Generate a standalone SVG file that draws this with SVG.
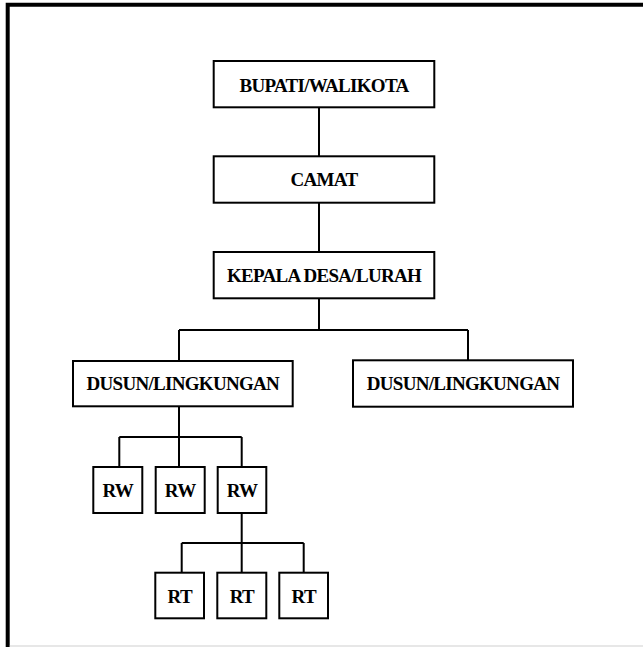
<svg xmlns="http://www.w3.org/2000/svg" width="643" height="647" viewBox="0 0 643 647">
<style>
.box{fill:#fff;stroke:#000;stroke-width:2}
text{font-family:'Liberation Serif','Times New Roman','DejaVu Serif',serif;font-weight:bold;font-size:19px;letter-spacing:-0.7px;fill:#000;text-anchor:middle}
.ln{fill:none;stroke:#000;stroke-width:2}
</style>
<rect x="0" y="0" width="643" height="647" fill="#fff"/>
<g id="frame">
<path d="M7.7,647 V4.7 H643" fill="none" stroke="#000" stroke-width="4"/>
<line x1="9.7" y1="646" x2="643" y2="646" stroke="#cfcfcf" stroke-width="1.2"/>
</g>
<g id="connectors">
<path class="ln" d="M319,108 V156"/>
<path class="ln" d="M319,203 V252"/>
<path class="ln" d="M319,299 V330 M179,330 H468 M179,330 V360 M468,330 V360"/>
<path class="ln" d="M179,407 V437 M119.3,437 H241.7 M119.3,437 V466 M179,437 V466 M241.7,437 V466"/>
<path class="ln" d="M241.7,514 V543 M181.7,543 H303.7 M181.7,543 V572 M241.7,543 V572 M303.7,543 V572"/>
</g>
<g id="bupati">
<rect class="box" x="213.7" y="61" width="220.6" height="46.3"/>
<text x="324" y="91.5" font-family="Liberation Serif, serif">BUPATI/WALIKOTA</text>
</g>
<g id="camat">
<rect class="box" x="213.7" y="156.3" width="220.6" height="46.4"/>
<text x="324" y="186" font-family="Liberation Serif, serif">CAMAT</text>
</g>
<g id="kepala">
<rect class="box" x="213.7" y="252" width="220.6" height="46.3"/>
<text x="324" y="281.7" font-family="Liberation Serif, serif">KEPALA DESA/LURAH</text>
</g>
<g id="dusun1">
<rect class="box" x="73" y="361" width="219.7" height="45.3"/>
<text x="182.8" y="390" font-family="Liberation Serif, serif">DUSUN/LINGKUNGAN</text>
</g>
<g id="dusun2">
<rect class="box" x="353" y="360.3" width="220" height="46.4"/>
<text x="463" y="390" font-family="Liberation Serif, serif">DUSUN/LINGKUNGAN</text>
</g>
<g id="rw1">
<rect class="box" x="93.3" y="467" width="49" height="46"/>
<text x="117.8" y="496.7" font-family="Liberation Serif, serif">RW</text>
</g>
<g id="rw2">
<rect class="box" x="155.7" y="467" width="49" height="46"/>
<text x="180.2" y="496.7" font-family="Liberation Serif, serif">RW</text>
</g>
<g id="rw3">
<rect class="box" x="217.7" y="467" width="48.6" height="46"/>
<text x="242" y="496.7" font-family="Liberation Serif, serif">RW</text>
</g>
<g id="rt1">
<rect class="box" x="155.3" y="572.7" width="48.7" height="45.6"/>
<text x="179.7" y="602.7" font-family="Liberation Serif, serif">RT</text>
</g>
<g id="rt2">
<rect class="box" x="217.3" y="572.7" width="49" height="45.6"/>
<text x="241.8" y="602.7" font-family="Liberation Serif, serif">RT</text>
</g>
<g id="rt3">
<rect class="box" x="279.3" y="572.7" width="48.7" height="45.6"/>
<text x="303.7" y="602.7" font-family="Liberation Serif, serif">RT</text>
</g>
</svg>
